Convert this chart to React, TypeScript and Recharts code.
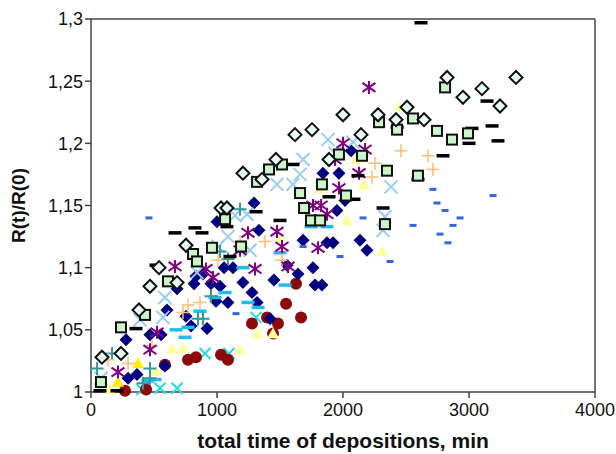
import React from "react";
import {
  ScatterChart,
  Scatter,
  XAxis,
  YAxis,
  ReferenceLine,
} from "recharts";

const openDiamonds = [
  [87, 1.028], [238, 1.031], [381, 1.066], [468, 1.085], [540, 1.1], [683, 1.088],
  [754, 1.118], [1032, 1.148], [1079, 1.148], [1206, 1.176], [1357, 1.171], [1468, 1.187],
  [1619, 1.207], [1754, 1.211], [1889, 1.187], [2000, 1.223], [2143, 1.207], [2278, 1.223],
  [2421, 1.219], [2508, 1.229], [2643, 1.219], [2826, 1.253], [2952, 1.237], [3103, 1.244],
  [3246, 1.23], [3373, 1.253],
];
const openSquares = [
  [79, 1.008], [238, 1.052], [429, 1.062], [611, 1.089], [810, 1.111], [841, 1.105],
  [960, 1.116], [1064, 1.139], [1191, 1.117], [1318, 1.169], [1413, 1.179], [1516, 1.183],
  [1659, 1.16], [1691, 1.148], [1746, 1.138], [1818, 1.138], [1833, 1.167], [1968, 1.191],
  [2024, 1.158], [2151, 1.19], [2286, 1.217], [2333, 1.135], [2349, 1.178], [2429, 1.211],
  [2556, 1.22], [2595, 1.174], [2746, 1.21], [2810, 1.245], [2865, 1.203], [2992, 1.208],
];
const blackDashes = [
  [71, 1.001], [206, 1.001], [357, 1.051], [516, 1.102], [667, 1.128], [825, 1.132],
  [881, 1.128], [1079, 1.133], [1103, 1.109], [1310, 1.145], [1500, 1.138], [1603, 1.183],
  [1889, 1.157], [2087, 1.155], [2119, 1.174], [2318, 1.148], [2429, 1.213], [2595, 1.171],
  [2619, 1.297], [2794, 1.19], [3000, 1.2], [3024, 1.212], [3143, 1.234], [3183, 1.214],
  [3230, 1.202],
];
const blueDashes = [
  [460, 1.14], [1151, 1.063], [1683, 1.117], [1976, 1.109], [2159, 1.14], [2373, 1.105],
  [2556, 1.134], [2714, 1.163], [2746, 1.152], [2770, 1.127], [2810, 1.146], [2833, 1.12],
  [2873, 1.134], [2929, 1.14], [3191, 1.158],
];
const navyDiamonds = [
  [278, 1.042], [294, 1.011], [365, 1.014], [468, 1.046], [556, 1.046], [587, 1.021],
  [603, 1.066], [683, 1.083], [754, 1.061], [794, 1.053], [818, 1.087], [833, 1.093],
  [889, 1.095], [921, 1.051], [952, 1.087], [992, 1.073], [1000, 1.137], [1024, 1.085],
  [1056, 1.1], [1087, 1.072], [1127, 1.1], [1206, 1.088], [1278, 1.08], [1294, 1.152],
  [1318, 1.072], [1333, 1.13], [1421, 1.059], [1452, 1.09], [1556, 1.102], [1643, 1.095],
  [1683, 1.122], [1762, 1.1], [1778, 1.086], [1833, 1.086], [1841, 1.176], [1873, 1.12],
  [1921, 1.12], [1952, 1.146], [1968, 1.176], [2016, 1.154], [2064, 1.194], [2135, 1.122],
  [2190, 1.114],
];
const magentaSquares = [
  [373, 1.034], [675, 1.074], [921, 1.036], [992, 1.066], [1127, 1.084], [1167, 1.076],
  [1341, 1.088], [1389, 1.096], [1452, 1.096], [1683, 1.107], [1730, 1.093], [1881, 1.112],
  [2079, 1.121], [2119, 1.138], [2429, 1.15], [2564, 1.168], [2699, 1.15], [2849, 1.168],
  [2889, 1.115],
];
const paleTriangles = [
  [151, 1.002], [516, 1.017], [643, 1.035], [730, 1.035], [1183, 1.034], [1318, 1.047],
  [1445, 1.047], [1500, 1.123], [1818, 1.164], [2032, 1.138], [2103, 1.187], [2167, 1.167],
  [2310, 1.113], [2453, 1.23],
];
const yellowTriangles = [[214, 1.008], [373, 1.023]];
const lightBlueCrosses = [
  [79, 1.011], [389, 1.058], [571, 1.06], [587, 1.076], [841, 1.096], [1008, 1.117],
  [1087, 1.125], [1143, 1.142], [1238, 1.143], [1262, 1.114], [1476, 1.167], [1603, 1.167],
  [1659, 1.175], [1683, 1.187], [1881, 1.203], [1937, 1.192], [2079, 1.201], [2318, 1.13],
  [2333, 1.141], [2381, 1.165],
];
const cyanCrosses = [
  [405, 1.002], [548, 1.003], [683, 1.003], [905, 1.031], [1095, 1.031], [1310, 1.06],
];
const tealPlus = [
  [48, 1.019], [167, 1.031], [413, 1.007], [468, 1.019], [468, 1.011], [849, 1.059],
  [889, 1.059], [952, 1.077], [1024, 1.113], [1087, 1.107], [1183, 1.147],
];
const purpleStars = [
  [214, 1.016], [468, 1.034], [524, 1.048], [667, 1.101], [913, 1.099], [968, 1.092],
  [1183, 1.114], [1246, 1.128], [1302, 1.099], [1476, 1.129], [1516, 1.117], [1564, 1.101],
  [1762, 1.15], [1802, 1.116], [1826, 1.15], [1873, 1.143], [1937, 1.187], [1968, 1.164],
  [2000, 1.2], [2127, 1.176], [2175, 1.195], [2206, 1.245],
];
const orangePlus = [
  [135, 1.026], [294, 1.023], [484, 1.037], [730, 1.064], [770, 1.07], [865, 1.072],
  [1008, 1.106], [1183, 1.121], [1381, 1.121], [1516, 1.106], [2230, 1.173], [2254, 1.184],
  [2460, 1.194], [2675, 1.19], [2714, 1.179],
];
const redCircles = [
  [270, 1.001], [437, 1.002], [587, 1.022], [770, 1.026], [833, 1.028], [1032, 1.03],
  [1087, 1.026], [1278, 1.055], [1397, 1.06], [1445, 1.047], [1484, 1.055], [1548, 1.071],
  [1627, 1.087], [1667, 1.06],
];
const cyanDashes = [
  [452, 1.009], [508, 1.01], [675, 1.05], [746, 1.044], [770, 1.052], [865, 1.065],
  [984, 1.076], [1064, 1.08], [1206, 1.1], [1246, 1.072], [1326, 1.068], [1500, 1.112],
  [1540, 1.086], [1746, 1.133], [1873, 1.133],
];

const xTicks = [0, 1000, 2000, 3000, 4000];
const yTicks = [1, 1.05, 1.1, 1.15, 1.2, 1.25, 1.3];

const pts = (a: number[][]) => a.map(([x, y]) => ({ x, y }));

const diamond = (fill: string, stroke: string, r: number, sw: number) => (p: any) => (
  <path
    d={`M${p.cx},${p.cy - r}L${p.cx + r},${p.cy}L${p.cx},${p.cy + r}L${p.cx - r},${p.cy}Z`}
    fill={fill}
    stroke={stroke}
    strokeWidth={sw}
  />
);
const square = (fill: string, stroke: string, h: number, sw: number) => (p: any) => (
  <rect x={p.cx - h} y={p.cy - h} width={2 * h} height={2 * h} fill={fill} stroke={stroke} strokeWidth={sw} />
);
const dash = (color: string, w: number, h: number) => (p: any) => (
  <rect x={p.cx - w / 2} y={p.cy - h / 2} width={w} height={h} fill={color} />
);
const cross = (color: string, r: number, sw: number) => (p: any) => (
  <path d={`M${p.cx - r},${p.cy - r}L${p.cx + r},${p.cy + r}M${p.cx - r},${p.cy + r}L${p.cx + r},${p.cy - r}`} stroke={color} strokeWidth={sw} fill="none" />
);
const plus = (color: string, r: number, sw: number) => (p: any) => (
  <path d={`M${p.cx - r},${p.cy}L${p.cx + r},${p.cy}M${p.cx},${p.cy - r}L${p.cx},${p.cy + r}`} stroke={color} strokeWidth={sw} fill="none" />
);
const star = (color: string, r: number, sw: number) => (p: any) => (
  <path
    d={`M${p.cx - r},${p.cy - r * 0.7}L${p.cx + r},${p.cy + r * 0.7}M${p.cx - r},${p.cy + r * 0.7}L${p.cx + r},${p.cy - r * 0.7}M${p.cx},${p.cy - r}L${p.cx},${p.cy + r}`}
    stroke={color}
    strokeWidth={sw}
    fill="none"
  />
);
const triangle = (color: string, r: number) => (p: any) => (
  <path d={`M${p.cx},${p.cy - r}L${p.cx + r},${p.cy + r * 0.8}L${p.cx - r},${p.cy + r * 0.8}Z`} fill={color} />
);
const circle = (color: string, r: number) => (p: any) => <circle cx={p.cx} cy={p.cy} r={r} fill={color} />;

const series = [
  { data: cyanCrosses, shape: cross("#22dddd", 5.5, 2) },
  { data: redCircles, shape: circle("#8b0a0a", 6) },
  { data: paleTriangles, shape: triangle("#ffff99", 6) },
  { data: yellowTriangles, shape: triangle("#ffee00", 6) },
  { data: magentaSquares, shape: square("#ff00ff", 5.5, 0) },
  { data: navyDiamonds, shape: diamond("#000080", "#000080", 6.5, 0) },
  { data: cyanDashes, shape: dash("#22bbee", 13, 3.5) },
  { data: blueDashes, shape: dash("#3366dd", 7, 3) },
  { data: lightBlueCrosses, shape: cross("#99ccf0", 6.5, 2) },
  { data: tealPlus, shape: plus("#339999", 6.5, 2) },
  { data: orangePlus, shape: plus("#ffbb77", 6.5, 1.5) },
  { data: purpleStars, shape: star("#800080", 6.5, 2) },
  { data: blackDashes, shape: dash("#000000", 13, 3.5) },
  { data: openSquares, shape: square("#ccf5cc", "#111111", 5, 2) },
  { data: openDiamonds, shape: diamond("#e6fbf6", "#111111", 6.5, 2) },
];

const font = "Liberation Sans, Arial, sans-serif";
const tickStyle = { fontFamily: font, fontSize: 18, fill: "#111" };

export default function App() {
  return (
    <div style={{ position: "absolute", left: 0, top: 0, background: "#fff" }}>
      <ScatterChart width={616} height={454} margin={{ top: 19, right: 21, bottom: 0, left: 0 }}>
        <XAxis
          type="number"
          dataKey="x"
          domain={[0, 4000]}
          ticks={xTicks}
          interval={0}
          height={62}
          stroke="#444"
          strokeWidth={1.5}
          tickSize={6}
          tickMargin={5}
          tick={tickStyle}
          label={{
            value: "total time of depositions, min",
            position: "insideBottom",
            offset: 6,
            style: { fontFamily: font, fontSize: 21, fontWeight: "bold", fill: "#111" },
          }}
        />
        <YAxis
          type="number"
          dataKey="y"
          domain={[1, 1.3]}
          ticks={yTicks}
          interval={0}
          width={91}
          stroke="#444"
          strokeWidth={1.5}
          tickSize={6}
          tick={tickStyle}
          tickFormatter={(v: number) => String(v).replace(".", ",")}
          label={{
            value: "R(t)/R(0)",
            angle: -90,
            position: "insideLeft",
            offset: 18,
            style: { textAnchor: "middle", fontFamily: font, fontSize: 19, fontWeight: "bold", fill: "#111" },
          }}
        />
        <ReferenceLine y={1.3} stroke="#444" strokeWidth={1.5} />
        <ReferenceLine x={4000} stroke="#444" strokeWidth={1.5} />
        {series.map((s, i) => (
          <Scatter key={i} data={pts(s.data)} shape={s.shape} isAnimationActive={false} />
        ))}
      </ScatterChart>
    </div>
  );
}
